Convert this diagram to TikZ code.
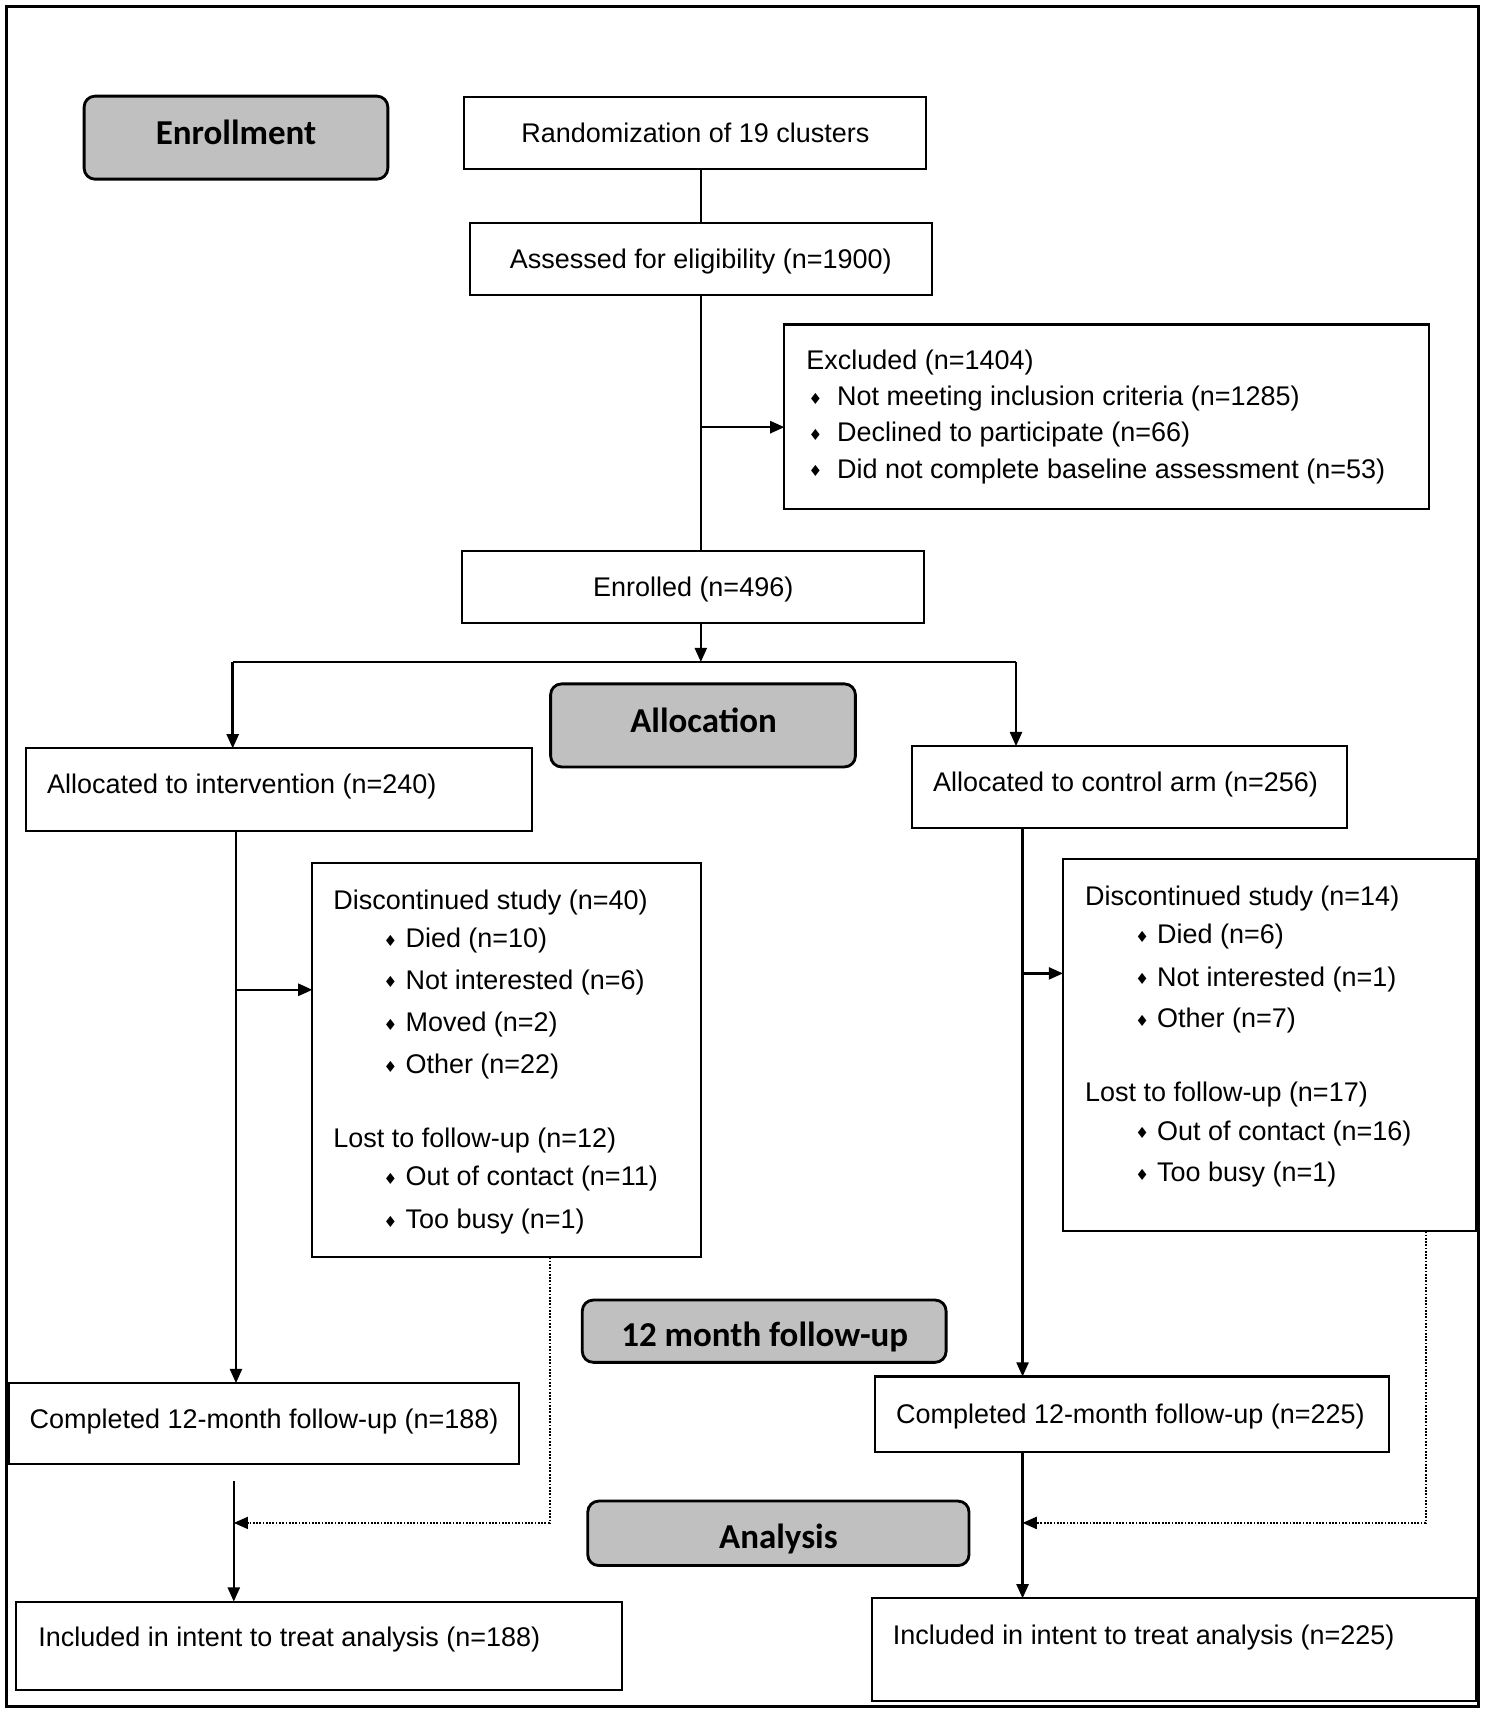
\documentclass[tikz,border=0pt]{standalone}
\usepackage{fontspec}
\setmainfont{Liberation Sans}
\newfontfamily\hdrfont{Carlito}
\newfontfamily\symfont{DejaVu Sans}
\usetikzlibrary{arrows.meta}
\definecolor{hdrgray}{RGB}{192,192,192}
\newcommand\bul{\raisebox{1.2pt}{\symfont\fontsize{14}{14}\selectfont ♦}}
\begin{document}
\begin{tikzpicture}[x=1pt,y=-1pt,
  box/.style={draw,line width=1.9pt,outer sep=0pt,inner sep=0pt,anchor=north west,
    font=\fontsize{24.7}{29.6}\selectfont,text height=22.5pt,text depth=5.4pt},
  hdr/.style={draw,line width=2.6pt,fill=hdrgray,rounded corners=10pt,outer sep=0pt,inner sep=0pt,
    anchor=north west},
  hdrtxt/.style={inner sep=0pt,font=\hdrfont\bfseries\fontsize{32}{38}\selectfont,text height=20.6pt,text depth=0pt},
  txt/.style={anchor=west,inner sep=0pt,font=\fontsize{24.7}{29.6}\selectfont,text height=22.5pt,text depth=5.4pt},
  conn/.style={line width=2.2pt},
  arr/.style={line width=2.2pt,-{Triangle[length=13pt,width=11pt]}},
  dotarr/.style={line width=1.8pt,dash pattern=on 1.6pt off 1.4pt,-{Triangle[length=13pt,width=11pt]}}
]
\useasboundingbox (0,0) rectangle (1359,1568);
\draw[line width=2.5pt] (6,6) rectangle (1353,1562);

% phase headers
\node[hdr,minimum width=278,minimum height=76] (enroll) at (77,88) {};
\node[hdr,minimum width=279,minimum height=76] (alloc) at (504,626) {};
\node[hdr,minimum width=333,minimum height=57] (follow) at (533,1190) {};
\node[hdr,minimum width=349,minimum height=59] (analysis) at (538,1374) {};
\node[hdrtxt] (enrollT) at (216,122) {Enrollment};
\node[hdrtxt] (allocT) at (644,660) {Allocation};
\node[hdrtxt] (followT) at (700,1222) {12 month follow-up};
\node[hdrtxt] (analysisT) at (712.5,1407) {Analysis};

% boxes
\node[box,minimum width=423,minimum height=66] (rand) at (425,89) {Randomization of 19 clusters};
\node[box,minimum width=423,minimum height=66] (assess) at (430,204) {Assessed for eligibility (n=1900)};
\node[box,minimum width=590,minimum height=169] (excl) at (718,297) {};
\node[box,minimum width=423,minimum height=66] (enrolled) at (423,504) {Enrolled (n=496)};
\node[box,minimum width=463,minimum height=76] (interv) at (24,685) {};
\node[box,minimum width=398,minimum height=75] (control) at (835,683) {};
\node[box,minimum width=356,minimum height=361] (discL) at (286,790) {};
\node[box,minimum width=378,minimum height=341] (discR) at (973,786) {};
\node[box,minimum width=467,minimum height=74] (compL) at (8,1266) {};
\node[box,minimum width=470,minimum height=69] (compR) at (801,1260) {};
\node[box,minimum width=554,minimum height=81] (inclL) at (15,1466) {};
\node[box,minimum width=553,minimum height=94] (inclR) at (798,1463) {};

% texts
\node[txt] (ex0) at (738,330) {Excluded (n=1404)};
\node[txt] (ex1) at (740,363) {\makebox[26pt][l]{\bul}Not meeting inclusion criteria (n=1285)};
\node[txt] (ex2) at (740,396) {\makebox[26pt][l]{\bul}Declined to participate (n=66)};
\node[txt] (ex3) at (740,429) {\makebox[26pt][l]{\bul}Did not complete baseline assessment (n=53)};

\node[txt] (tint) at (43,718) {Allocated to intervention (n=240)};
\node[txt] (tcon) at (854,716) {Allocated to control arm (n=256)};

\node[txt] (dl0) at (305,824) {Discontinued study (n=40)};
\node[txt] (dl1) at (351,859) {\makebox[20pt][l]{\bul}Died (n=10)};
\node[txt] (dl2) at (351,897) {\makebox[20pt][l]{\bul}Not interested (n=6)};
\node[txt] (dl3) at (351,936) {\makebox[20pt][l]{\bul}Moved (n=2)};
\node[txt] (dl4) at (351,974) {\makebox[20pt][l]{\bul}Other (n=22)};
\node[txt] (dl5) at (305,1042) {Lost to follow-up (n=12)};
\node[txt] (dl6) at (351,1077) {\makebox[20pt][l]{\bul}Out of contact (n=11)};
\node[txt] (dl7) at (351,1116) {\makebox[20pt][l]{\bul}Too busy (n=1)};

\node[txt] (dr0) at (993,820) {Discontinued study (n=14)};
\node[txt] (dr1) at (1039,855) {\makebox[20pt][l]{\bul}Died (n=6)};
\node[txt] (dr2) at (1039,894) {\makebox[20pt][l]{\bul}Not interested (n=1)};
\node[txt] (dr3) at (1039,932) {\makebox[20pt][l]{\bul}Other (n=7)};
\node[txt] (dr4) at (993,1000) {Lost to follow-up (n=17)};
\node[txt] (dr5) at (1039,1035) {\makebox[20pt][l]{\bul}Out of contact (n=16)};
\node[txt] (dr6) at (1039,1073) {\makebox[20pt][l]{\bul}Too busy (n=1)};

\node[txt] (tcl) at (27,1299) {Completed 12-month follow-up (n=188)};
\node[txt] (tcr) at (820,1294) {Completed 12-month follow-up (n=225)};
\node[txt] (til) at (35,1499) {Included in intent to treat analysis (n=188)};
\node[txt] (tir) at (817,1497) {Included in intent to treat analysis (n=225)};

% coordinates
\coordinate (exj) at (641.5,391);
\coordinate (split) at (641.5,606);
\coordinate (spL) at (213,606);
\coordinate (spR) at (930,606);
\coordinate (tL) at (216,0);
\coordinate (tR) at (936,0);
\coordinate (dLj) at (216,906);
\coordinate (dRj) at (936,891);
\coordinate (lowL) at (214,1356);
\coordinate (dotL) at (503,1394);
\coordinate (dotR) at (1305,1394);

% connectors
\draw[conn] (rand.south -| assess.north) -- (assess.north);
\draw[conn] (assess.south) -- (assess.south |- enrolled.north);
\draw[arr] (exj) -- (exj -| excl.west);
\draw[arr] (enrolled.south -| exj) -- (split);
\draw[conn] (spL) -- (spR);
\draw[arr] (spL) -- (spL |- interv.north);
\draw[arr] (spR) -- (spR |- control.north);
\draw[arr] (interv.south -| tL) -- (compL.north -| tL);
\draw[arr] (dLj) -- (dLj -| discL.west);
\draw[arr] (control.south -| tR) -- (compR.north -| tR);
\draw[arr] (dRj) -- (dRj -| discR.west);
\draw[arr] (lowL) -- (lowL |- inclL.north);
\draw[arr] (compR.south -| tR) -- (inclR.north -| tR);
\draw[dotarr] (discL.south -| dotL) -- (dotL) -- (lowL |- dotL);
\draw[dotarr] (discR.south -| dotR) -- (dotR) -- (tR |- dotR);
\end{tikzpicture}
\end{document}
